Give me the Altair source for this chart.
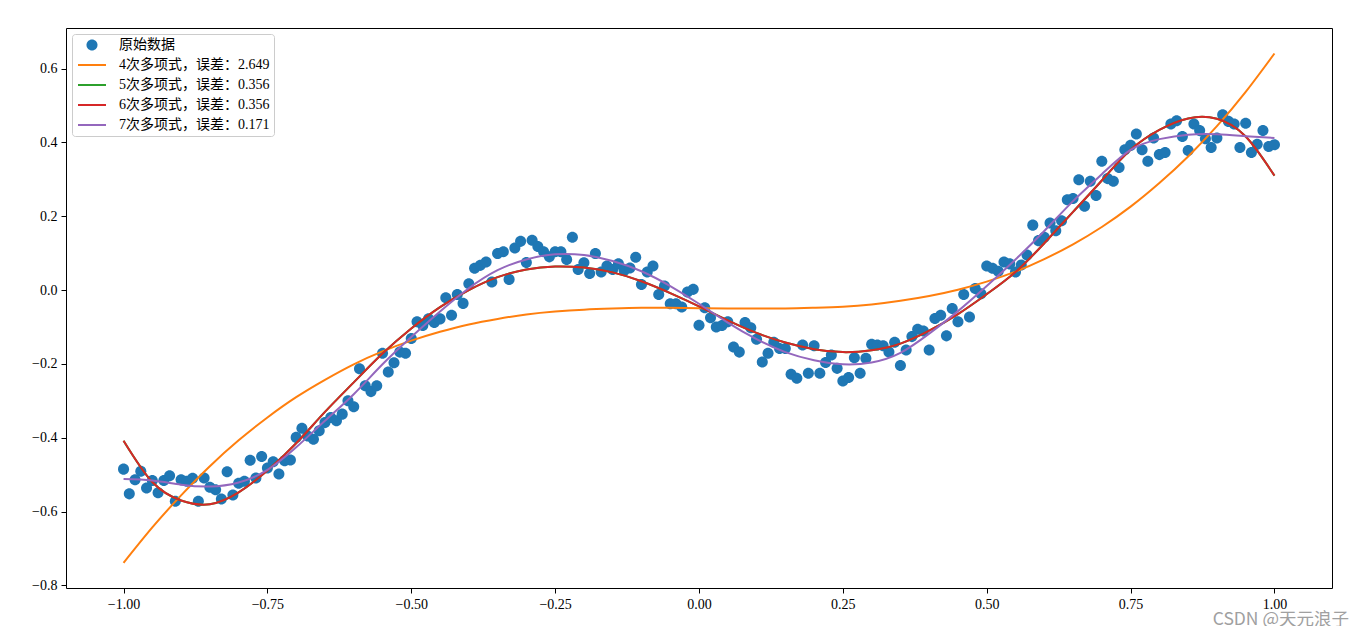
import altair as alt
import numpy as np
import pandas as pd

FONT = "Liberation Serif, Noto Sans CJK SC"

SERIES = [
    "原始数据",
    "4次多项式，误差：2.649",
    "5次多项式，误差：0.356",
    "6次多项式，误差：0.356",
    "7次多项式，误差：0.171",
]
COLORS = ["#1f77b4", "#ff7f0e", "#2ca02c", "#d62728", "#9467bd"]

# raw sample values (201 evenly spaced samples on [-1, 1])
Y_DATA = [
    -0.485, -0.552, -0.514, -0.491, -0.536, -0.516, -0.549, -0.516, -0.503, -0.572,
    -0.514, -0.518, -0.510, -0.572, -0.509, -0.534, -0.541, -0.566, -0.492, -0.555,
    -0.523, -0.518, -0.461, -0.509, -0.451, -0.482, -0.465, -0.498, -0.462, -0.460,
    -0.399, -0.374, -0.395, -0.404, -0.381, -0.359, -0.345, -0.354, -0.336, -0.300,
    -0.316, -0.213, -0.259, -0.275, -0.259, -0.171, -0.222, -0.197, -0.168, -0.171,
    -0.131, -0.086, -0.096, -0.078, -0.088, -0.078, -0.021, -0.068, -0.012, -0.036,
    0.017, 0.059, 0.067, 0.076, 0.022, 0.099, 0.104, 0.029, 0.114, 0.132,
    0.075, 0.135, 0.118, 0.104, 0.090, 0.104, 0.104, 0.083, 0.143, 0.056,
    0.074, 0.045, 0.099, 0.049, 0.065, 0.056, 0.071, 0.053, 0.060, 0.089,
    0.015, 0.049, 0.065, -0.012, 0.011, -0.037, -0.037, -0.046, -0.005, 0.002,
    -0.095, -0.048, -0.075, -0.100, -0.096, -0.086, -0.154, -0.168, -0.088, -0.102,
    -0.133, -0.195, -0.171, -0.141, -0.158, -0.158, -0.228, -0.239, -0.149, -0.225,
    -0.151, -0.225, -0.196, -0.176, -0.212, -0.246, -0.237, -0.183, -0.225, -0.185,
    -0.147, -0.149, -0.151, -0.168, -0.141, -0.204, -0.162, -0.126, -0.106, -0.111,
    -0.162, -0.077, -0.068, -0.124, -0.050, -0.086, -0.012, -0.073, 0.004, -0.010,
    0.065, 0.059, 0.051, 0.076, 0.071, 0.049, 0.068, 0.095, 0.176, 0.134,
    0.143, 0.182, 0.161, 0.188, 0.245, 0.248, 0.299, 0.227, 0.295, 0.256,
    0.349, 0.302, 0.295, 0.332, 0.380, 0.392, 0.423, 0.380, 0.349, 0.412,
    0.367, 0.373, 0.450, 0.459, 0.416, 0.378, 0.450, 0.432, 0.410, 0.386,
    0.412, 0.475, 0.457, 0.450, 0.386, 0.452, 0.373, 0.395, 0.432, 0.389,
    0.394,
]
X_DATA = np.linspace(-1.0, 1.0, len(Y_DATA))

# fitted curves read at x = -1.00, -0.95, ..., 1.00
Y_POLY4 = [
    -0.739, -0.643, -0.556, -0.477, -0.407, -0.345, -0.290, -0.243, -0.201, -0.166,
    -0.137, -0.113, -0.093, -0.078, -0.066, -0.058, -0.053, -0.050, -0.048, -0.048,
    -0.049, -0.050, -0.050, -0.050, -0.048, -0.045, -0.039, -0.029, -0.016, 0.001,
    0.023, 0.050, 0.084, 0.124, 0.171, 0.226, 0.290, 0.362, 0.444, 0.537, 0.641,
]
Y_POLY5 = [
    -0.408, -0.520, -0.570, -0.580, -0.548, -0.489, -0.415, -0.330, -0.250, -0.172,
    -0.104, -0.046, 0.000, 0.035, 0.056, 0.064, 0.061, 0.048, 0.024, -0.008,
    -0.044, -0.082, -0.116, -0.142, -0.160, -0.168, -0.163, -0.145, -0.110, -0.065,
    -0.011, 0.049, 0.127, 0.212, 0.297, 0.380, 0.434, 0.465, 0.464, 0.416, 0.310,
]
Y_POLY6 = [
    -0.408, -0.520, -0.570, -0.580, -0.548, -0.489, -0.415, -0.330, -0.250, -0.172,
    -0.104, -0.046, 0.000, 0.035, 0.056, 0.064, 0.061, 0.048, 0.024, -0.008,
    -0.044, -0.082, -0.116, -0.142, -0.160, -0.168, -0.163, -0.145, -0.110, -0.065,
    -0.011, 0.049, 0.127, 0.212, 0.297, 0.380, 0.434, 0.465, 0.464, 0.416, 0.310,
]
Y_POLY7 = [
    -0.512, -0.516, -0.527, -0.532, -0.521, -0.487, -0.426, -0.354, -0.282, -0.201,
    -0.127, -0.058, 0.005, 0.054, 0.083, 0.097, 0.095, 0.079, 0.051, 0.011,
    -0.037, -0.088, -0.133, -0.168, -0.190, -0.201, -0.196, -0.170, -0.118, -0.057,
    0.011, 0.083, 0.160, 0.241, 0.314, 0.380, 0.409, 0.421, 0.422, 0.417, 0.412,
]
X_CURVE = np.linspace(-1.0, 1.0, len(Y_POLY4))

points = pd.DataFrame({"x": X_DATA, "y": Y_DATA, "series": SERIES[0]})
curves = pd.concat(
    [
        pd.DataFrame({"x": X_CURVE, "y": ys, "series": name})
        for name, ys in zip(SERIES[1:], [Y_POLY4, Y_POLY5, Y_POLY6, Y_POLY7])
    ],
    ignore_index=True,
)

# symbol shapes (unit paths, scaled by sqrt(size)/2 = 6 px)
CIRCLE = "M-0.92,0A0.92,0.92,0,1,0,0.92,0A0.92,0.92,0,1,0,-0.92,0Z"
BAR = "M-2.33,-0.17H2.33V0.17H-2.33Z"
SHAPES = [CIRCLE, BAR, BAR, BAR, BAR]

legend = alt.Legend(
    title=None,
    orient="top-left",
    offset=6,
    padding=4,
    fillColor="rgba(255,255,255,0.8)",
    strokeColor="#cccccc",
    cornerRadius=3,
    labelFont=FONT,
    labelFontSize=14,
    labelColor="black",
    symbolSize=144,
    symbolOffset=9,
    labelOffset=20,
    rowPadding=6,
    symbolStrokeWidth=0,
    symbolOpacity=1,
)

xscale = alt.Scale(domain=[-1.1, 1.1], nice=False, zero=False)
yscale = alt.Scale(domain=[-0.807, 0.710], nice=False, zero=False)
cscale = alt.Scale(domain=SERIES, range=COLORS)
xaxis = alt.Axis(values=[-1, -0.75, -0.5, -0.25, 0, 0.25, 0.5, 0.75, 1], format=".2f", title=None)
yaxis = alt.Axis(values=[-0.8, -0.6, -0.4, -0.2, 0, 0.2, 0.4, 0.6], format=".1f", title=None)

scatter = alt.Chart(points).mark_point(filled=True, size=144, opacity=1, strokeWidth=0).encode(
    x=alt.X("x:Q", scale=xscale, axis=xaxis),
    y=alt.Y("y:Q", scale=yscale, axis=yaxis),
    color=alt.Color("series:N", scale=cscale, legend=legend),
    shape=alt.Shape("series:N", scale=alt.Scale(domain=SERIES, range=SHAPES), legend=legend),
)

lines = alt.Chart(curves).mark_line(strokeWidth=2, interpolate="natural").encode(
    x=alt.X("x:Q", scale=xscale),
    y=alt.Y("y:Q", scale=yscale),
    color=alt.Color("series:N", scale=cscale, legend=None),
)

chart = (
    alt.layer(scatter, lines)
    .properties(
        width=1266,
        height=560,
        autosize=alt.AutoSizeParams(type="none"),
        padding={"left": 58, "top": 20, "right": 27, "bottom": 38},
        title=alt.TitleParams(
            text="CSDN @天元浪子",
            orient="bottom",
            anchor="end",
            color="#a0a0a0",
            fontSize=17.5,
            fontWeight="normal",
            font="Noto Sans CJK SC",
            offset=0,
            dx=17,
        ),
    )
    .configure_view(stroke="black", strokeWidth=1)
    .configure_axis(
        grid=False,
        domain=False,
        ticks=True,
        tickColor="black",
        tickSize=5,
        tickWidth=1,
        labelColor="black",
        labelFont=FONT,
        labelFontSize=14,
        labelPadding=4,
    )
)

chart.save("out.html", embed_options={"renderer": "svg", "actions": False})
